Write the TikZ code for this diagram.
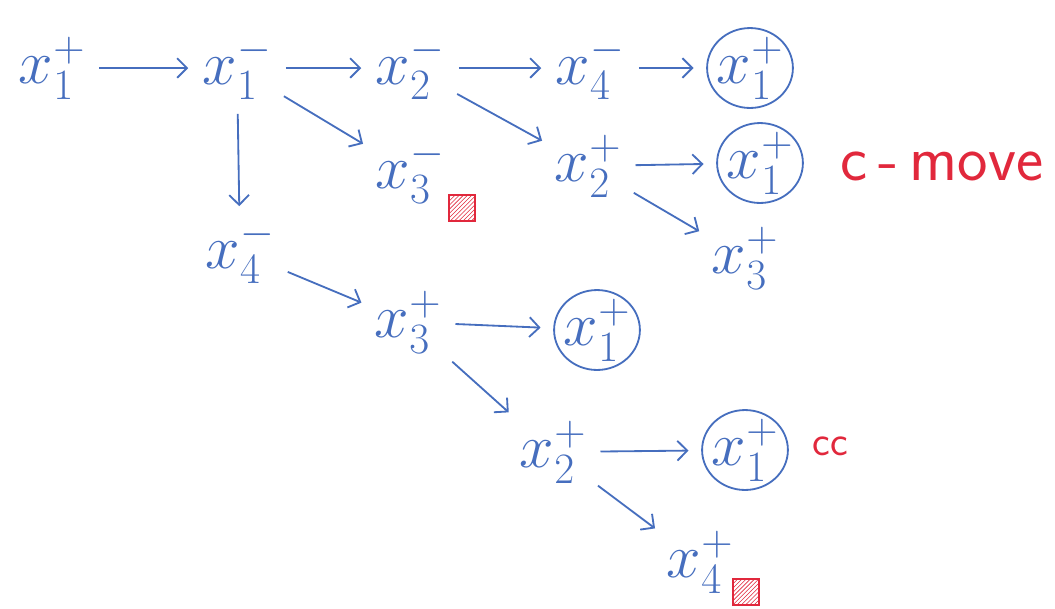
\RequirePackage{fix-cm}
\documentclass[tikz,border=0pt]{standalone}
\usepackage{xcolor}
\usepackage{tikz}
\usetikzlibrary{shapes.geometric, arrows.meta, positioning, patterns}
\definecolor{inkblue}{RGB}{70, 110, 190}
\definecolor{inkred}{RGB}{225, 40, 60}

\begin{document}
\begin{tikzpicture}[
  x=0.025cm, y=-0.025cm,
  term/.style={inner sep=1pt, text=inkblue, font=\fontsize{44}{50}\selectfont},
  loop/.style={term, ellipse, draw=inkblue, line width=1.3pt, inner sep=-2pt},
  arrow/.style={-{Straight Barb[length=7pt, width=14pt]}, line width=1.3pt, color=inkblue,
               shorten >=9pt, shorten <=9pt},
  redbox/.style={draw=inkred, line width=1.2pt, pattern=north east lines, pattern color=inkred,
                 minimum size=0.65cm, inner sep=0pt},
  note/.style={text=inkred, font=\sffamily\fontsize{46}{52}\selectfont},
]
  \useasboundingbox (0,0) rectangle (1055,608);

  % top row
  \node[term] (a1) at (52,68) {$x_1^+$};
  \node[term] (b1) at (237,68) {$x_1^-$};
  \node[term] (c1) at (410,68) {$x_2^-$};
  \node[term] (d1) at (590,68) {$x_4^-$};
  \node[loop] (e1) at (750,68) {$x_1^+$};

  % second row
  \node[term] (c2) at (410,172) {$x_3^-$};
  \node[redbox] (q1) at (462,208) {};
  \node[term] (d2) at (588,166) {$x_2^+$};
  \node[loop] (e2) at (760,163) {$x_1^+$};
  \node[note, anchor=west] (cm) at (836,166) {c\,-\,move};
  \node[term] (e3) at (745,258) {$x_3^+$};

  % lower part
  \node[term] (b3) at (240,252) {$x_4^-$};
  \node[term] (c4) at (408,322) {$x_3^+$};
  \node[loop] (d4) at (597,330) {$x_1^+$};
  \node[term] (d5) at (553,452) {$x_2^+$};
  \node[loop] (e5) at (745,450) {$x_1^+$};
  \node[note, anchor=west, font=\sffamily\fontsize{30}{36}\selectfont] (cc) at (808,446) {cc};
  \node[term] (e6) at (700,562) {$x_4^+$};
  \node[redbox] (q2) at (746,592) {};

  \draw[arrow] (a1) -- (b1);
  \draw[arrow] (b1) -- (c1);
  \draw[arrow] (c1) -- (d1);
  \draw[arrow] (d1) -- (e1);
  \draw[arrow] (b1) -- (c2);
  \draw[arrow] (b1) -- (b3);
  \draw[arrow] (c1) -- (d2);
  \draw[arrow] (d2) -- (e2);
  \draw[arrow] (d2) -- (e3);
  \draw[arrow] (b3) -- (c4);
  \draw[arrow] (c4) -- (d4);
  \draw[arrow] (c4) -- (d5);
  \draw[arrow] (d5) -- (e5);
  \draw[arrow] (d5) -- (e6);
\end{tikzpicture}
\end{document}
